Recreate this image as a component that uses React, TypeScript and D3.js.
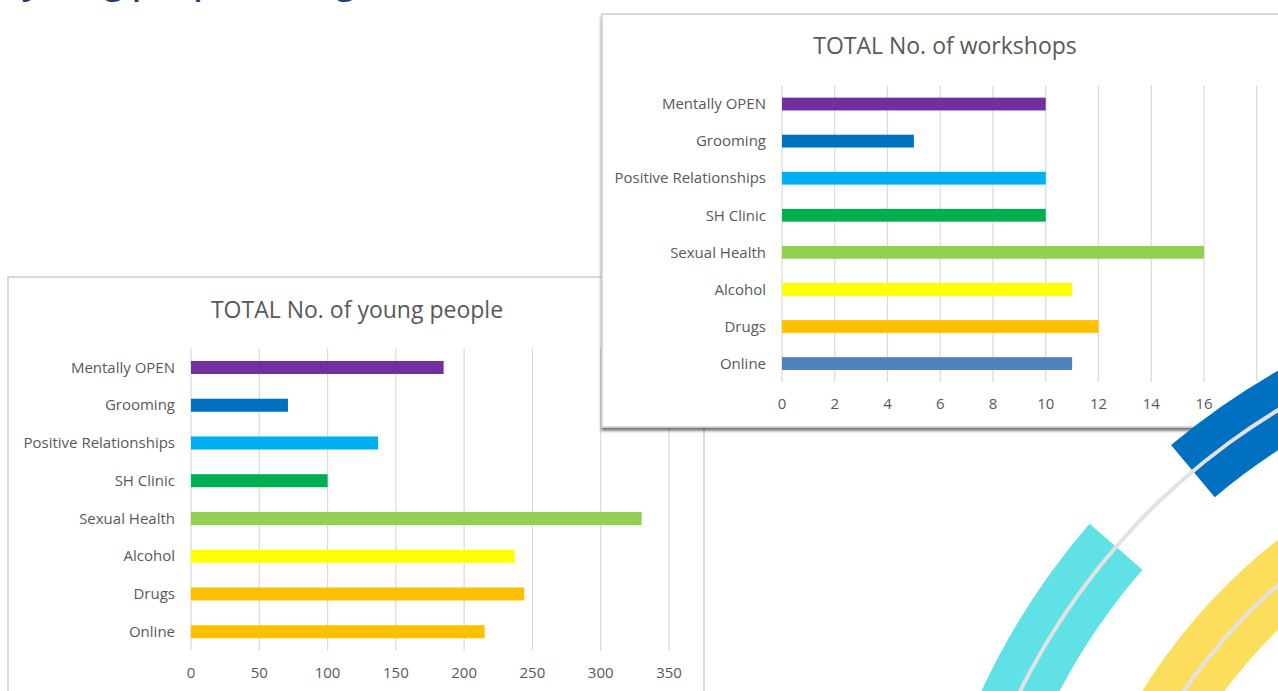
import React from 'react';
import * as d3 from 'd3';

const categories = ['Mentally OPEN', 'Grooming', 'Positive Relationships', 'SH Clinic', 'Sexual Health', 'Alcohol', 'Drugs', 'Online'];
const youngPeople = [185, 71, 137, 100, 330, 237, 244, 215];
const workshops = [10, 5, 10, 10, 16, 11, 12, 11];
const youngColors = ['#7030a0', '#0070c0', '#00b0f0', '#00b050', '#92d050', '#ffff00', '#ffc000', '#ffc000'];
const workshopColors = ['#7030a0', '#0070c0', '#00b0f0', '#00b050', '#92d050', '#ffff00', '#ffc000', '#4f81bd'];
const youngTicks = [0, 50, 100, 150, 200, 250, 300, 350];
const workshopTicks = [0, 2, 4, 6, 8, 10, 12, 14, 16, 18];
const titleYoung = 'TOTAL No. of young people';
const titleWorkshops = 'TOTAL No. of workshops';
const headingText = 'young people taking';

const FONT = '"Open Sans", "Liberation Sans", sans-serif';
const TEXT = '#595959';
const GRID = '#d9d9d9';

type ChartProps = {
  title: string;
  values: number[];
  colors: string[];
  ticks: number[];
  xRange: [number, number];
  yRange: [number, number];
  titleX: number;
  titleY: number;
  tickY: number;
};

function BarChart({ title, values, colors, ticks, xRange, yRange, titleX, titleY, tickY }: ChartProps) {
  const x = d3.scaleLinear().domain([0, ticks[ticks.length - 1]]).range(xRange);
  const y = d3.scaleBand<string>().domain(categories).range(yRange).paddingInner(0.655).paddingOuter(0.3275);
  return (
    <g>
      <text x={titleX} y={titleY} textAnchor="middle" fontFamily={FONT} fontSize={23} fill={TEXT}>{title}</text>
      {ticks.map((t) => (
        <line key={'g' + t} x1={x(t)} x2={x(t)} y1={yRange[0]} y2={yRange[1]} stroke={GRID} strokeWidth={1.2} />
      ))}
      {ticks.map((t) => (
        <text key={'t' + t} x={x(t)} y={tickY} dy="0.35em" textAnchor="middle" fontFamily={FONT} fontSize={15} fill={TEXT}>{t}</text>
      ))}
      {categories.map((c, i) => (
        <g key={c}>
          <rect x={x(0)} y={y(c)} width={x(values[i]) - x(0)} height={y.bandwidth()} fill={colors[i]} />
          <text x={x(0) - 16} y={(y(c) as number) + y.bandwidth() / 2} dy="0.35em" textAnchor="end" fontFamily={FONT} fontSize={15} fill={TEXT}>{c}</text>
        </g>
      ))}
    </g>
  );
}

export default function App() {
  const cx = 1630;
  const cy = 992;
  const deg = Math.PI / 180;
  const band = (inner: number, outer: number, a0: number, a1: number) =>
    d3.arc()({ innerRadius: inner, outerRadius: outer, startAngle: a0 * deg, endAngle: a1 * deg }) as string;
  const ring = (r: number, a0: number, a1: number) =>
    d3.arc()({ innerRadius: r - 2, outerRadius: r + 2, startAngle: a0 * deg, endAngle: a1 * deg }) as string;

  return (
    <svg width={1278} height={691} style={{ position: 'absolute', left: 0, top: 0, background: '#fff' }}>
      <defs>
        <filter id="sh" x="-5%" y="-5%" width="110%" height="115%">
          <feDropShadow dx="0" dy="3" stdDeviation="1.8" floodColor="#000" floodOpacity="0.55" />
        </filter>
      </defs>
      <text x={22} y={-6} fontFamily={FONT} fontWeight={600} fontSize={34} fill="#1d3d78">{headingText}</text>

      {/* left panel */}
      <rect x={8} y={277} width={696} height={500} fill="#fff" stroke="#cdcdcd" strokeWidth={1.5} />
      <BarChart title={titleYoung} values={youngPeople} colors={youngColors} ticks={youngTicks}
        xRange={[191, 669]} yRange={[348.6, 650.6]} titleX={357} titleY={318} tickY={673} />

      {/* right panel */}
      <rect x={602} y={14} width={720} height={413} fill="#fff" stroke="#cfcfcf" strokeWidth={1.5} filter="url(#sh)" />
      <BarChart title={titleWorkshops} values={workshops} colors={workshopColors} ticks={workshopTicks}
        xRange={[782, 1256.75]} yRange={[85.5, 382.1]} titleX={945} titleY={54} tickY={404} />

      {/* decorative arcs */}
      <g transform={`translate(${cx},${cy})`}>
        <path d={band(505, 573, -88, -5)} fill="#fddd5c" />
        <path d={ring(538, -88, -5)} fill="#e2e2e2" />
        <path d={band(645, 715, -80, -49.1)} fill="#5fe1e5" />
        <path d={band(646, 714, -40, -5)} fill="#0070c0" />
        <path d={ring(680, -88, -5)} fill="#e2e2e2" />
      </g>
    </svg>
  );
}
